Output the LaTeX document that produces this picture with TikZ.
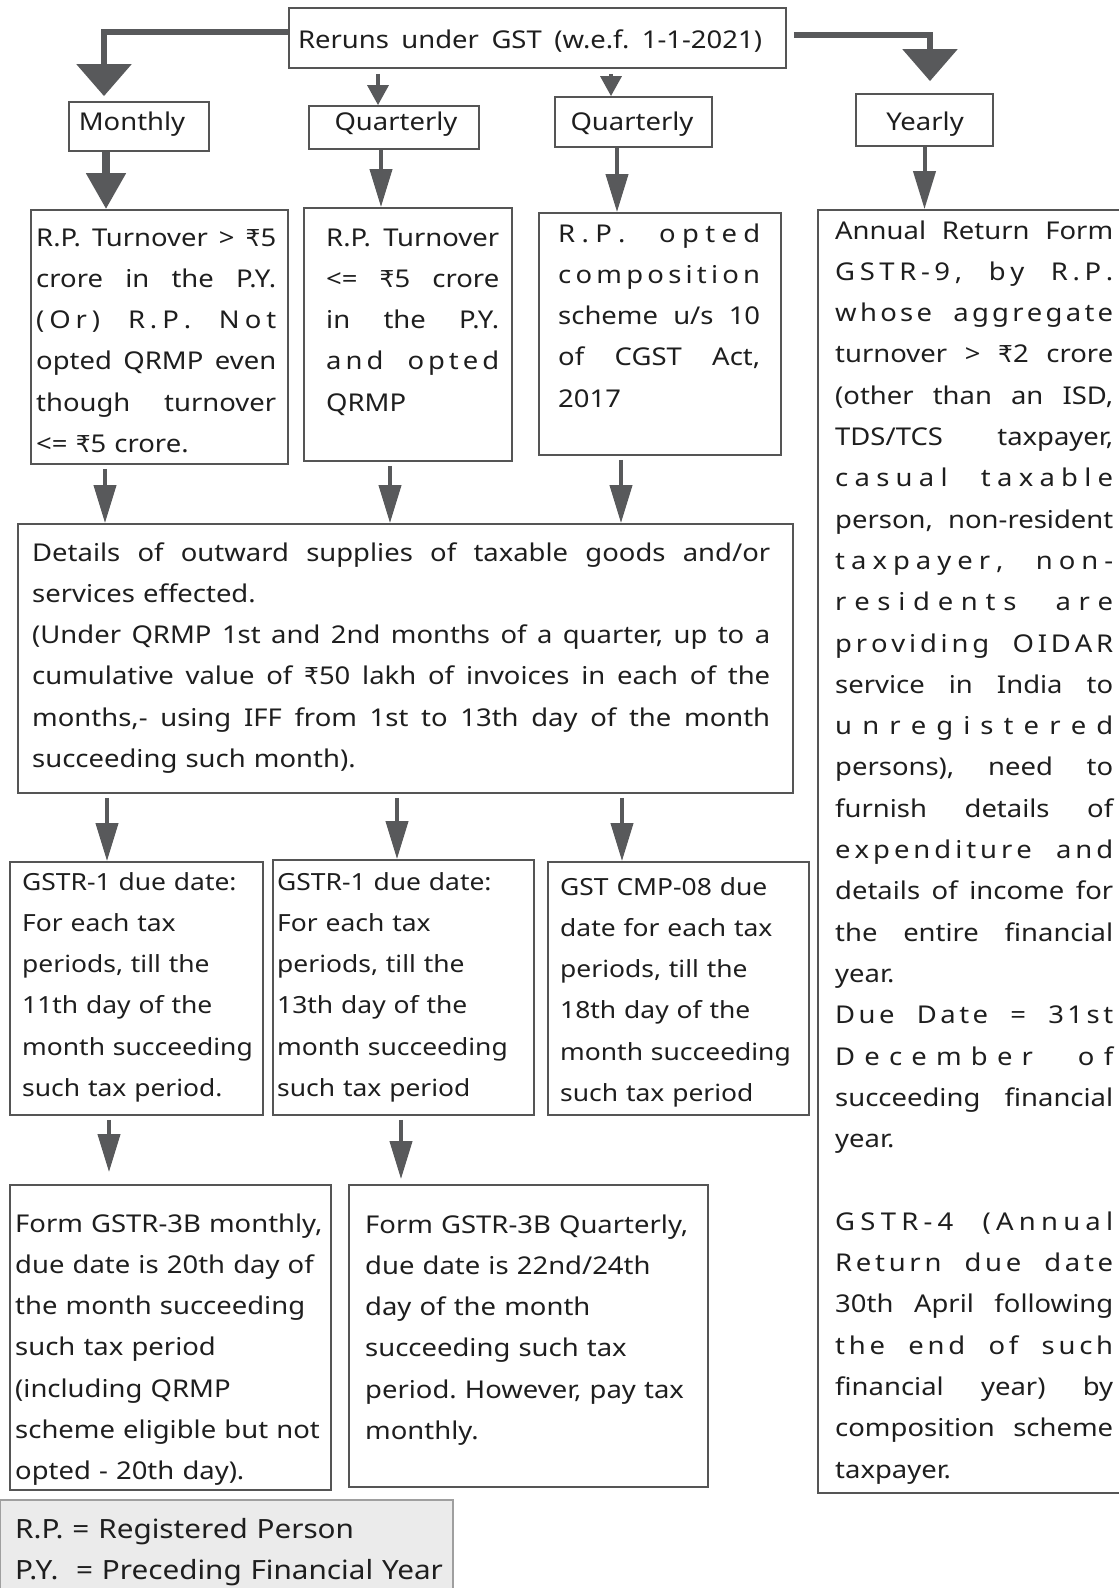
\documentclass[tikz,border=0pt]{standalone}
\usepackage{fontspec}
\setmainfont[FakeStretch=1.12]{Noto Sans}
\newfontfamily\rsfont[Scale=0.95]{DejaVu Sans}
\usetikzlibrary{arrows.meta,fit}
\definecolor{arrcol}{HTML}{58595B}
\definecolor{bordcol}{HTML}{555555}
\definecolor{txtcol}{HTML}{1E1E1E}
\definecolor{legfill}{HTML}{EBEBEB}
\frenchspacing
\hyphenpenalty=10000
\newcommand\Rs{{\rsfont ₹}}
\newcommand\JL[1]{\makebox[\linewidth][s]{\spaceskip=\fontdimen2\font plus 1fil\xspaceskip=\fontdimen2\font plus 1fil\relax#1}}
\newcommand\JW[2]{\makebox[#1][s]{\spaceskip=\fontdimen2\font plus 1fil\xspaceskip=\fontdimen2\font plus 1fil\relax#2}}
\def\SPword#1{\SPfirst#1\SPend}
\def\SPfirst#1{#1\SPrest}
\def\SPend{}
\def\SPrest#1{\ifx\SPend#1\else\hskip 0pt plus 1fil\relax#1\expandafter\SPrest\fi}
\def\SLwords#1 #2\SLstop{\SPword{#1}\ifx\relax#2\relax\else\ \hskip 0pt plus 4fil\relax\SLwords#2\SLstop\fi}
\newcommand\SL[1]{\makebox[\linewidth][s]{\SLwords#1 \SLstop}}
\tikzset{
  box/.style={draw=bordcol, line width=1.8pt, inner sep=0pt},
  txt/.style={text=txtcol, inner sep=0pt, align=left, anchor=base west, font=\fontsize{24.5}{41.3}\selectfont},
  txtsm/.style={txt, font=\fontsize{23.6}{41.3}\selectfont},
  lbl/.style={text=txtcol, inner sep=0pt, anchor=base, font=\fontsize{24.5}{41.3}\selectfont},
  arrS/.style={draw=arrcol, line width=3.5pt, -{Triangle[length=20pt,width=21pt]}},
  arrM/.style={draw=arrcol, line width=4pt, -{Triangle[length=38pt,width=22pt]}},
  arrT/.style={draw=arrcol, line width=8pt, -{Triangle[length=36pt,width=38pt]}},
  arrB/.style={draw=arrcol, line width=6pt, -{Triangle[length=32pt,width=54pt]}},
}
\begin{document}
\begin{tikzpicture}[x=1pt,y=-1pt]
\useasboundingbox (0,0) rectangle (1119,1588);
% boxes
\node[box, fit={(289,8) (786,68)}] (top) {};
\node[box, fit={(69,102) (209,151)}] (monthly) {};
\node[box, fit={(309,106) (479,149)}] (q1) {};
\node[box, fit={(555,97) (712,147)}] (q2) {};
\node[box, fit={(856,94) (993,146)}] (yearly) {};
\node[box, fit={(31,210) (288,464)}] (b1) {};
\node[box, fit={(304,208) (512,461)}] (b2) {};
\node[box, fit={(539,213) (781,455)}] (b3) {};
\node[box, fit={(818,210) (1135,1493)}] (big) {};
\node[box, fit={(18,524) (793,793)}] (det) {};
\node[box, fit={(10,862) (263,1115)}] (b4) {};
\node[box, fit={(273,860) (534,1115)}] (b5) {};
\node[box, fit={(548,862) (809,1115)}] (b6) {};
\node[box, fit={(10,1185) (331,1490)}] (b7) {};
\node[box, fit={(349,1185) (708,1487)}] (b8) {};
\node[box, draw=gray!75, line width=1.5pt, fill=legfill, fit={(0,1500) (453,1600)}] (leg) {};
% labels
\node[lbl] (topt) at (530,48) {\JW{464pt}{Reruns under GST (w.e.f. 1-1-2021)}};
\node[lbl] (montht) at (132,130) {Monthly};
\node[lbl] (q1t) at (396,130) {Quarterly};
\node[lbl] (q2t) at (632,130) {Quarterly};
\node[lbl] (yeart) at (925,130) {Yearly};
% texts
\node[txt, text width=240pt] (b1t) at (36,246) {\JL{R.P. Turnover > \Rs5}\\
\JL{crore in the P.Y.}\\
\SL{(Or) R.P. Not}\\
\JL{opted QRMP even}\\
\JL{though turnover}\\
<= \Rs5 crore.};
\node[txt, text width=173pt] (b2t) at (326,246) {\JL{R.P. Turnover}\\
\JL{<= \Rs5 crore}\\
\JL{in the P.Y.}\\
\SL{and opted}\\
QRMP};
\node[txt, text width=202pt] (b3t) at (558,242) {\SL{R.P. opted}\\
\SL{composition}\\
\JL{scheme u/s 10}\\
\JL{of CGST Act,}\\
2017};
\node[txt, text width=738pt] (dett) at (32,561) {\JL{Details of outward supplies of taxable goods and/or}\\
services effected.\\
\JL{(Under QRMP 1st and 2nd months of a quarter, up to a}\\
\JL{cumulative value of \Rs50 lakh of invoices in each of the}\\
\JL{months,- using IFF from 1st to 13th day of the month}\\
succeeding such month).};
\node[txtsm, text width=260pt] (b4t) at (22,890) {GSTR-1 due date:\\
For each tax\\
periods, till the\\
11th day of the\\
month succeeding\\
such tax period.};
\node[txtsm, text width=260pt] (b5t) at (277,890) {GSTR-1 due date:\\
For each tax\\
periods, till the\\
13th day of the\\
month succeeding\\
such tax period};
\node[txtsm, text width=260pt] (b6t) at (560,895) {GST CMP-08 due\\
date for each tax\\
periods, till the\\
18th day of the\\
month succeeding\\
such tax period};
\node[txt, text width=330pt] (b7t) at (15,1232) {Form GSTR-3B monthly,\\
due date is 20th day of\\
the month succeeding\\
such tax period\\
(including QRMP\\
scheme eligible but not\\
opted - 20th day).};
\node[txt, text width=340pt] (b8t) at (365,1233) {Form GSTR-3B Quarterly,\\
due date is 22nd/24th\\
day of the month\\
succeeding such tax\\
period. However, pay tax\\
monthly.};
\node[txt, text width=278pt] (bigt) at (835,239) {\JL{Annual Return Form}\\
\SL{GSTR-9, by R.P.}\\
\SL{whose aggregate}\\
\JL{turnover > \Rs2 crore}\\
\JL{(other than an ISD,}\\
\JL{TDS/TCS taxpayer,}\\
\SL{casual taxable}\\
\JL{person, non-resident}\\
\SL{taxpayer, non-}\\
\SL{residents are}\\
\SL{providing OIDAR}\\
\JL{service in India to}\\
\SL{unregistered}\\
\JL{persons), need to}\\
\JL{furnish details of}\\
\SL{expenditure and}\\
\JL{details of income for}\\
\JL{the entire financial}\\
year.\\
\SL{Due Date = 31st}\\
\SL{December of}\\
\JL{succeeding financial}\\
year.\\
\mbox{}\\
\SL{GSTR-4 (Annual}\\
\SL{Return due date}\\
\JL{30th April following}\\
\SL{the end of such}\\
\JL{financial year) by}\\
\JL{composition scheme}\\
taxpayer.};
\node[txt, text width=440pt, font=\fontsize{26.5}{41.3}\selectfont] (legt) at (15,1538) {R.P. = Registered Person\\
P.Y.\ \ = Preceding Financial Year};
% connectors
\draw[arrB, shorten >=5pt] ([yshift=6pt]top.west) -| ([xshift=-35pt]monthly.north);
\draw[arrB, shorten <=7pt, shorten >=12pt] ([yshift=3pt]top.east) -| ([xshift=5.5pt]yearly.north);
\draw[arrS, shorten <=5pt] ([xshift=-16pt]top.south -| q1.north) -- ([xshift=-16pt]q1.north);
\draw[arrS, shorten <=5pt] ([xshift=-22.5pt]top.south -| q2.north) -- ([xshift=-22.5pt]q2.north);
\draw[arrT] ([xshift=-33pt]monthly.south) -- ([xshift=-33pt]monthly.south |- b1.north);
\draw[arrM] ([xshift=-13pt]q1.south) -- ([xshift=-13pt]q1.south |- b2.north);
\draw[arrM] ([xshift=-16.5pt]q2.south) -- ([xshift=-16.5pt]q2.south |- b3.north);
\draw[arrM] (yearly.south) -- (yearly.south |- big.north);
\draw[arrM, shorten <=4pt] ([xshift=-54.5pt]b1.south) -- ([xshift=-54.5pt]b1.south |- det.north);
\draw[arrM, shorten <=4pt] ([xshift=-18pt]b2.south) -- ([xshift=-18pt]b2.south |- det.north);
\draw[arrM, shorten <=4pt] ([xshift=-39pt]b3.south) -- ([xshift=-39pt]b3.south |- det.north);
\draw[arrM, shorten <=4pt] ([xshift=-29.5pt]det.south -| b4.north) -- ([xshift=-29.5pt]b4.north);
\draw[arrM, shorten <=4pt] ([xshift=-6.5pt]det.south -| b5.north) -- ([xshift=-6.5pt]b5.north);
\draw[arrM, shorten <=4pt] ([xshift=-56.5pt]det.south -| b6.north) -- ([xshift=-56.5pt]b6.north);
\draw[arrM, shorten <=4pt, shorten >=12pt] ([xshift=-27.5pt]b4.south) -- ([xshift=-27.5pt]b4.south |- b7.north);
\draw[arrM, shorten <=4pt, shorten >=5pt] ([xshift=-2.5pt]b5.south) -- ([xshift=-2.5pt]b5.south |- b8.north);
\end{tikzpicture}
\end{document}
